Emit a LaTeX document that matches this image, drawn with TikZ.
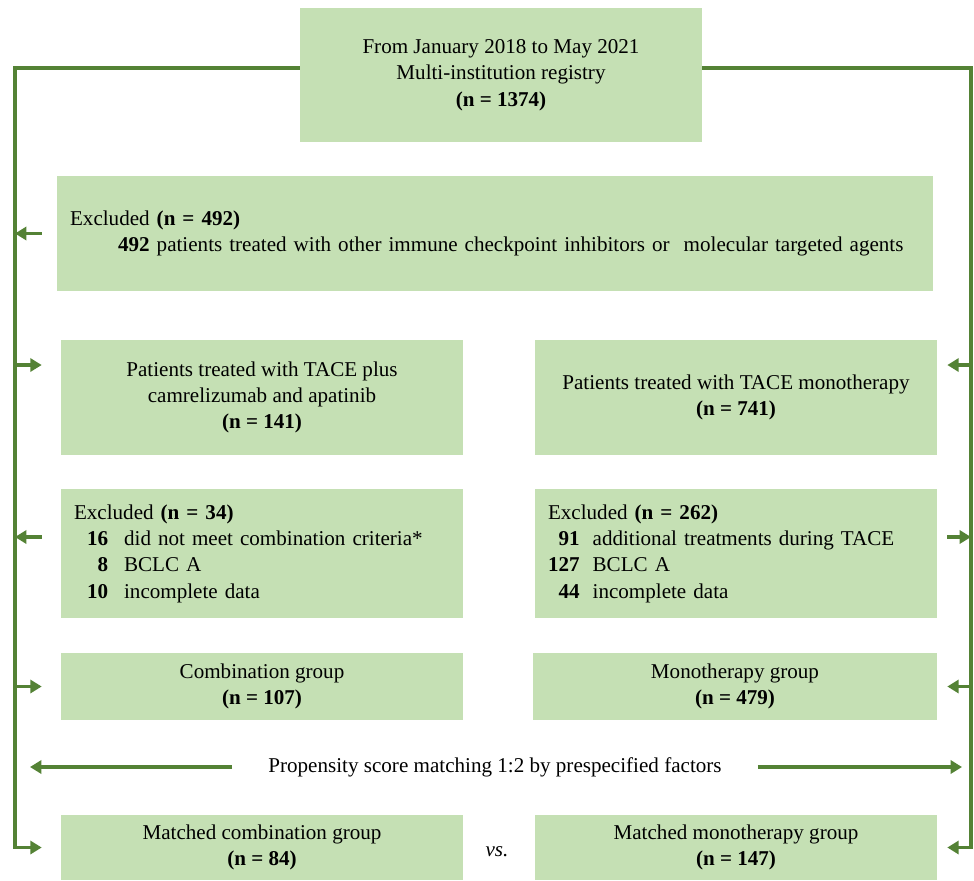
\documentclass[tikz,border=0pt]{standalone}
\usepackage{fontspec}
\setmainfont{Liberation Serif}
\usetikzlibrary{arrows.meta}
\definecolor{boxfill}{RGB}{197, 224, 180}
\definecolor{railgreen}{RGB}{84, 130, 53}

\tikzset{
  box/.style={fill=boxfill, inner sep=0pt, align=center, minimum width=8.04cm},
  listbox/.style={box, align=left, inner xsep=0.26cm},
  rail/.style={draw=railgreen, line width=1.8pt},
  arr/.style={rail, -{Triangle[length=6.5pt, width=7.5pt]}}
}

\begin{document}
\begin{tikzpicture}[x=0.02cm, y=-0.02cm, font=\fontsize{12}{15}\selectfont]
  \useasboundingbox (0,0) rectangle (974,880);

  \coordinate (lt) at (15,68);
  \coordinate (rt) at (971,68);

  \node[box, minimum height=2.68cm] (top) at (501,75) {From January 2018 to May 2021\\Multi-institution registry\\\textbf{(n = 1374)}};

  \node[listbox, text width=17cm, minimum height=2.3cm] (excl) at (495,233.5)
    {Excluded \textbf{(n = 492)}\\\hspace*{0.96cm}\textbf{492} patients treated with other immune checkpoint inhibitors or\ \ molecular targeted agents};

  \node[box, minimum height=2.3cm] (combo) at (262,397.5) {Patients treated with TACE plus\\camrelizumab and apatinib\\\textbf{(n = 141)}};
  \node[box, minimum height=2.3cm] (mono) at (736,397.5) {Patients treated with TACE monotherapy\\\textbf{(n = 741)}};

  \node[listbox, text width=7.52cm, minimum height=2.58cm] (exclL) at (262,553.5)
    {\begin{tabular}{@{\hspace{0.26cm}}r@{\hspace{0.32cm}}l}
      \multicolumn{2}{@{}l}{Excluded \textbf{(n = 34)}}\\
      \textbf{16} & did not meet combination criteria*\\
      \textbf{8} & BCLC A\\
      \textbf{10} & incomplete data
    \end{tabular}};
  \node[listbox, text width=7.52cm, minimum height=2.58cm] (exclR) at (736,553.5)
    {\begin{tabular}{@{}r@{\hspace{0.26cm}}l}
      \multicolumn{2}{@{}l}{Excluded \textbf{(n = 262)}}\\
      \textbf{91} & additional treatments during TACE\\
      \textbf{127} & BCLC A\\
      \textbf{44} & incomplete data
    \end{tabular}};

  \node[box, minimum height=1.34cm] (combG) at (262,686.5) {Combination group\\\textbf{(n = 107)}};
  \node[box, minimum height=1.34cm, minimum width=8.08cm] (monoG) at (735,686.5) {Monotherapy group\\\textbf{(n = 479)}};

  \node[inner xsep=0.72cm] (psm) at (495,767) {Propensity score matching 1:2 by prespecified factors};

  \node[box, minimum height=1.3cm] (matchL) at (262,847.5) {Matched combination group\\\textbf{(n = 84)}};
  \node[box, minimum height=1.3cm] (matchR) at (736,847.5) {Matched monotherapy group\\\textbf{(n = 147)}};
  \node (vs) at (497,852) {\textit{vs.}};

  \draw[arr] (top.west |- lt) -- (lt) -- (matchL.west -| lt) -- ([xshift=-0.38cm]matchL.west);
  \draw[arr] (top.east |- rt) -- (rt) -- (matchR.east -| rt) -- ([xshift=0.2cm]matchR.east);

  \draw[arr] ([xshift=-0.3cm]excl.west) -- (excl.west -| lt);

  \draw[arr] ([yshift=0.65cm]combo.west -| lt) -- ([yshift=0.65cm, xshift=-0.38cm]combo.west);
  \draw[arr] ([yshift=0.65cm]mono.east -| rt) -- ([yshift=0.65cm, xshift=0.2cm]mono.east);

  \draw[arr] ([yshift=0.33cm, xshift=-0.38cm]exclL.west) -- ([yshift=0.33cm]exclL.west -| lt);
  \draw[arr] ([yshift=0.33cm, xshift=0.2cm]exclR.east) -- ([yshift=0.33cm]exclR.east -| rt);

  \draw[arr] (combG.west -| lt) -- ([xshift=-0.38cm]combG.west);
  \draw[arr] (monoG.east -| rt) -- ([xshift=0.2cm]monoG.east);

  \draw[arr] (psm.west) -- ([xshift=0.3cm]psm.west -| lt);
  \draw[arr] (psm.east) -- ([xshift=-0.18cm]psm.east -| rt);
\end{tikzpicture}
\end{document}
